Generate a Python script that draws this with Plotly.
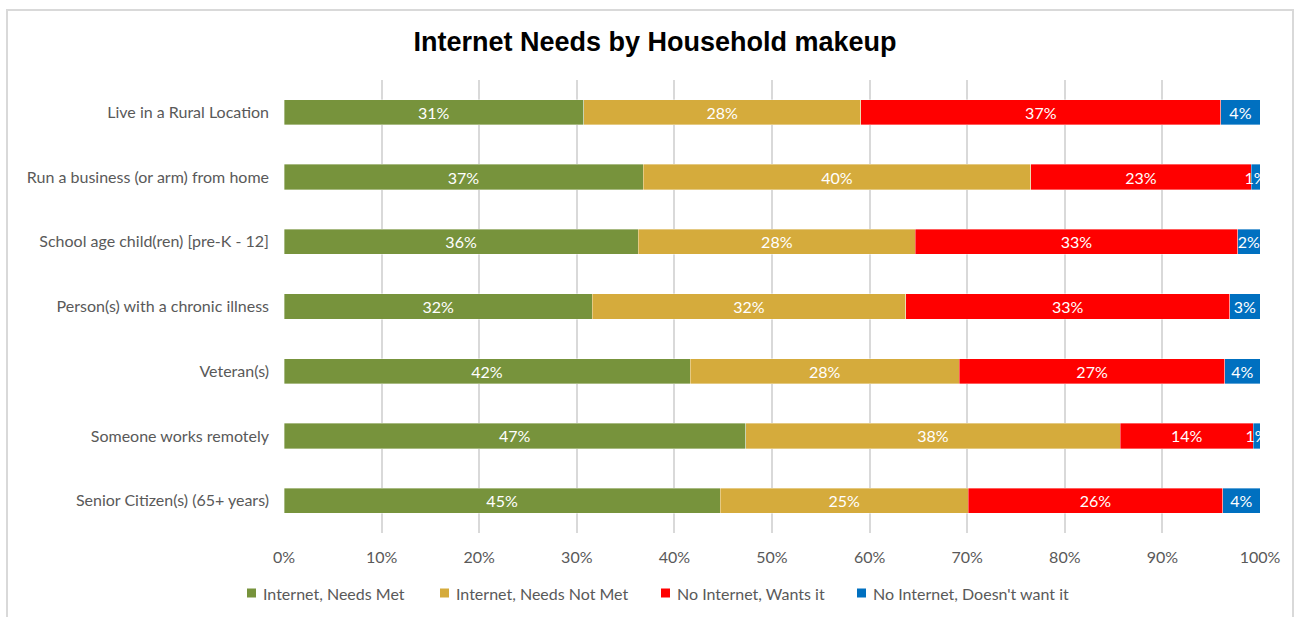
import plotly.graph_objects as go

# Household groups, top to bottom
categories = [
    "Live in a Rural Location",
    "Run a business (or arm) from home",
    "School age child(ren) [pre-K - 12]",
    "Person(s) with a chronic illness",
    "Veteran(s)",
    "Someone works remotely",
    "Senior Citizen(s) (65+ years)",
]

# Share of each group (percent)
needs_met = [30.7, 36.8, 36.3, 31.6, 41.6, 47.3, 44.7]
needs_not_met = [28.4, 39.7, 28.4, 32.1, 27.6, 38.4, 25.4]
no_internet_wants = [36.9, 22.6, 33.0, 33.2, 27.2, 13.6, 26.1]
no_internet_doesnt_want = [4.0, 0.9, 2.3, 3.1, 3.6, 0.7, 3.8]

series_names = [
    "Internet, Needs Met",
    "Internet, Needs Not Met",
    "No Internet, Wants it",
    "No Internet, Doesn't want it",
]
series_values = [needs_met, needs_not_met, no_internet_wants, no_internet_doesnt_want]
series_colors = ["#77933C", "#D5AB3C", "#FF0000", "#0070C0"]

tick_vals = [0, 10, 20, 30, 40, 50, 60, 70, 80, 90, 100]
tick_text = [f"{v}%" for v in tick_vals]

FONT = "Lato, 'Open Sans', sans-serif"
GRAY = "#595959"

W, H = 1294, 617
ml, mr, mt, mb = 284, 34, 80, 84
pw, ph = W - ml - mr, H - mt - mb


def px_x(x):
    """Pixel column -> paper x."""
    return (x - ml) / pw


def px_y(y):
    """Pixel row -> paper y."""
    return (H - mb - y) / ph


fig = go.Figure()
for name, vals, color in zip(series_names, series_values, series_colors):
    fig.add_trace(go.Bar(
        y=categories,
        x=vals,
        name=name,
        orientation="h",
        marker=dict(color=color, line=dict(color="rgba(255,255,255,0.6)", width=0.6)),
        texttemplate="%{x:.0f}%",
        textposition="inside",
        insidetextanchor="middle",
        textangle=0,
        constraintext="none",
        textfont=dict(color="white", size=16, family=FONT),
        hovertemplate="%{y}<br>" + name + ": %{x:.1f}%<extra></extra>",
        showlegend=False,
    ))

fig.update_layout(
    width=W,
    height=H,
    barmode="stack",
    bargap=0.61,
    margin=dict(l=ml, r=mr, t=mt, b=mb),
    paper_bgcolor="white",
    plot_bgcolor="white",
    font=dict(family=FONT, color=GRAY, size=16),
    title=dict(
        text="<b>Internet Needs by Household makeup</b>",
        x=655 / W,
        xanchor="center",
        y=1 - 42 / H,
        yanchor="middle",
        font=dict(family="'Liberation Sans', Arial, sans-serif", size=27, color="black"),
    ),
    xaxis=dict(
        range=[0, 100],
        tickvals=tick_vals,
        ticktext=tick_text,
        showgrid=True,
        gridcolor="#D9D9D9",
        gridwidth=1.5,
        zeroline=False,
        showline=False,
        ticks="",
        ticklabelstandoff=13,
        tickfont=dict(size=16, color=GRAY),
        fixedrange=True,
    ),
    yaxis=dict(
        autorange="reversed",
        showgrid=False,
        showline=False,
        ticks="",
        ticklabelstandoff=14,
        tickfont=dict(size=16, color=GRAY),
        fixedrange=True,
    ),
    showlegend=False,
)

# Legend row: colour square plus label for each series
legend_square_x = [247, 440, 661, 857]
legend_row_y = 593
for sx, name, color in zip(legend_square_x, series_names, series_colors):
    fig.add_shape(
        type="rect", xref="paper", yref="paper",
        x0=px_x(sx), x1=px_x(sx + 9),
        y0=px_y(legend_row_y + 4.5), y1=px_y(legend_row_y - 4.5),
        line=dict(width=0), fillcolor=color,
    )
    fig.add_annotation(
        xref="paper", yref="paper",
        x=px_x(sx + 14), y=px_y(legend_row_y),
        xanchor="left", yanchor="middle",
        text=name, showarrow=False,
        font=dict(size=16, color=GRAY, family=FONT),
    )

# Light gray chart-area frame
fig.add_shape(
    type="rect",
    xref="paper", yref="paper",
    x0=px_x(7), x1=px_x(1293),
    y0=px_y(660), y1=px_y(10),
    line=dict(color="#D9D9D9", width=2),
    fillcolor="rgba(0,0,0,0)",
    layer="below",
)

fig.write_html("out.html")
